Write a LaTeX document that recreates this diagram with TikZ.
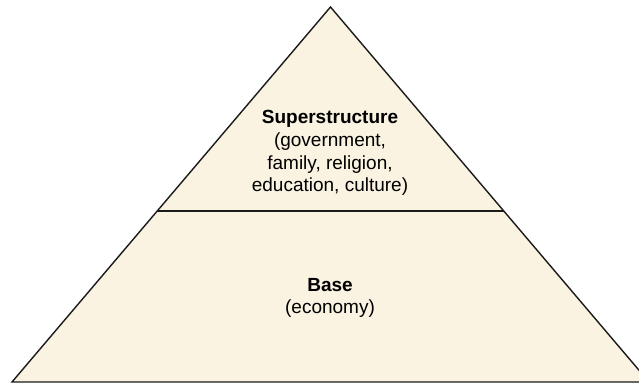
\documentclass[tikz,border=0pt]{standalone}
\usepackage{fontspec}
\setmainfont{Liberation Sans}
\usetikzlibrary{calc}
\definecolor{cream}{HTML}{FAF3E1}
\definecolor{edge}{HTML}{1A1A1A}
\tikzset{
  layer/.style={fill=cream,draw=edge,line width=1.4pt,line join=miter},
  divider/.style={draw=edge,line width=1.4pt},
  label/.style={align=center,font=\fontsize{19}{22.7}\selectfont,inner sep=0pt}
}
\begin{document}
\begin{tikzpicture}[x=1pt,y=-1pt]
\clip (0,0) rectangle (639,385);
\coordinate (apex) at (330.5,7);
\coordinate (bl) at (12,382);
\coordinate (br) at (649,382);
\draw[layer] (apex) -- (br) -- (bl) -- cycle;
\coordinate (dl) at ($(apex)!0.544!(bl)$);
\coordinate (dr) at ($(apex)!0.544!(br)$);
\draw[divider] (dl) -- (dr);
\node[label] (sup) at (330,153) {\textbf{Superstructure}\\(government,\\family, religion,\\education, culture)};
\node[label] (base) at (330,298) {\textbf{Base}\\(economy)};
\end{tikzpicture}
\end{document}
